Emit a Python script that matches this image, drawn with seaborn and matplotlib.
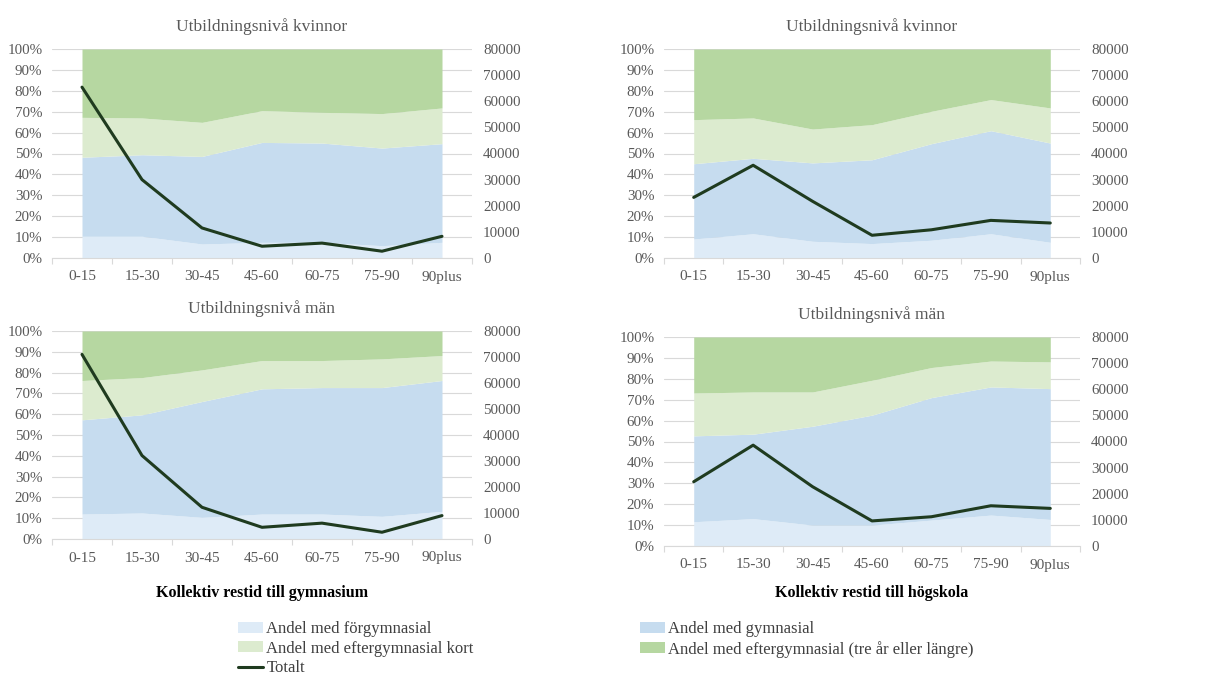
import numpy as np
import pandas as pd
import seaborn as sns
import matplotlib.pyplot as plt
from matplotlib.patches import Patch
from matplotlib.lines import Line2D
from matplotlib.ticker import FixedLocator, FuncFormatter

# restid (minuter)
restid = ["0-15", "15-30", "30-45", "45-60", "60-75", "75-90", "90plus"]

# kvinnor, gymnasium (andel i %)
kv_gym_forgymn = [10.4, 10.4, 6.7, 7.5, 7.5, 5.9, 7.5]
kv_gym_gymn = [37.8, 39.0, 41.9, 47.8, 47.5, 46.7, 47.2]
kv_gym_kort = [19.1, 17.6, 16.3, 15.2, 14.7, 16.5, 17.1]
kv_gym_lang = [32.7, 33.0, 35.1, 29.5, 30.3, 30.9, 28.2]
kv_gym_totalt = [65400, 30000, 11500, 4500, 5700, 2600, 8300]

# kvinnor, högskola
kv_hs_forgymn = [9.1, 11.6, 8.0, 6.9, 8.5, 11.6, 7.5]
kv_hs_gymn = [36.0, 36.1, 37.5, 40.1, 46.2, 49.3, 47.5]
kv_hs_kort = [21.1, 19.3, 16.2, 16.8, 15.5, 14.9, 16.8]
kv_hs_lang = [33.8, 33.0, 38.3, 36.2, 29.8, 24.2, 28.2]
kv_hs_totalt = [23200, 35500, 21700, 8700, 10800, 14400, 13400]

# män, gymnasium
man_gym_forgymn = [12.0, 12.5, 10.4, 12.0, 12.0, 10.9, 13.3]
man_gym_gymn = [45.3, 47.2, 55.7, 60.2, 60.8, 61.9, 62.9]
man_gym_kort = [18.9, 17.9, 15.2, 13.6, 13.0, 13.8, 12.0]
man_gym_lang = [23.8, 22.4, 18.7, 14.2, 14.2, 13.4, 11.8]
man_gym_totalt = [71000, 32100, 12200, 4500, 6100, 2600, 9000]

# män, högskola
man_hs_forgymn = [11.6, 13.1, 10.0, 10.0, 12.4, 14.8, 12.7]
man_hs_gymn = [41.1, 40.4, 47.3, 52.6, 58.6, 61.3, 62.6]
man_hs_kort = [20.5, 20.2, 16.4, 16.7, 14.4, 12.4, 12.8]
man_hs_lang = [26.8, 26.3, 26.3, 20.7, 14.6, 11.5, 11.9]
man_hs_totalt = [24600, 38600, 22700, 9600, 11200, 15400, 14400]

serie_namn = ["Andel med förgymnasial", "Andel med gymnasial",
              "Andel med eftergymnasial kort",
              "Andel med eftergymnasial (tre år eller längre)"]
farger = ["#deebf7", "#c6dcef", "#dcebcf", "#b6d7a1"]
linje_farg = "#1f3b1f"
gra = "#595959"

sns.set_theme(style="white")
plt.rcParams["font.family"] = ["Liberation Serif", "DejaVu Serif"]

fig = plt.figure(figsize=(12.12, 6.74), dpi=100)
W, H = 1212, 674


def px_axes(left, top, right, bottom):
    return fig.add_axes([left / W, 1 - bottom / H, (right - left) / W, (bottom - top) / H])


paneler = [
    (px_axes(52, 49, 472, 258), "Utbildningsnivå kvinnor",
     [kv_gym_forgymn, kv_gym_gymn, kv_gym_kort, kv_gym_lang], kv_gym_totalt, None),
    (px_axes(664, 49, 1080, 258), "Utbildningsnivå kvinnor",
     [kv_hs_forgymn, kv_hs_gymn, kv_hs_kort, kv_hs_lang], kv_hs_totalt, None),
    (px_axes(52, 331, 472, 539), "Utbildningsnivå män",
     [man_gym_forgymn, man_gym_gymn, man_gym_kort, man_gym_lang], man_gym_totalt,
     "Kollektiv restid till gymnasium"),
    (px_axes(664, 337, 1080, 546), "Utbildningsnivå män",
     [man_hs_forgymn, man_hs_gymn, man_hs_kort, man_hs_lang], man_hs_totalt,
     "Kollektiv restid till högskola"),
]

x = np.arange(len(restid))

for ax, titel, andelar, totalt, xlabel in paneler:
    ax.set_axisbelow(True)
    ax.stackplot(x, *andelar, colors=farger, linewidth=0)
    ax.set_xlim(-0.5, len(restid) - 0.5)
    ax.set_ylim(0, 100)
    ax.yaxis.set_major_locator(FixedLocator(np.arange(0, 101, 10)))
    ax.yaxis.set_major_formatter(FuncFormatter(lambda v, p: f"{v:.0f}%"))
    ax.grid(axis="y", color="#d9d9d9", linewidth=0.8)
    ax.grid(axis="x", visible=False)
    ax.set_xticks(x)
    ax.set_xticklabels(restid)
    ax.set_xticks(np.arange(-0.5, len(restid)), minor=True)
    ax.tick_params(axis="x", which="major", length=0, pad=9, labelsize=11, labelcolor=gra)
    ax.tick_params(axis="x", which="minor", length=4, color="#d9d9d9", width=0.8,
                   direction="out", bottom=True)
    ax.tick_params(axis="y", length=0, pad=7, labelsize=10.8, labelcolor=gra)
    for s in ["left", "right", "top"]:
        ax.spines[s].set_visible(False)
    ax.spines["bottom"].set_color("#d9d9d9")
    ax.spines["bottom"].set_linewidth(0.8)
    ax.set_title(titel, fontsize=12.5, color=gra, pad=13)

    ax2 = ax.twinx()
    df = pd.DataFrame({"x": x, "Totalt": totalt})
    sns.lineplot(data=df, x="x", y="Totalt", ax=ax2, color=linje_farg, linewidth=2.2)
    ax2.set_ylim(0, 80000)
    ax2.yaxis.set_major_locator(FixedLocator(np.arange(0, 80001, 10000)))
    ax2.yaxis.set_major_formatter(FuncFormatter(lambda v, p: f"{v:.0f}"))
    ax2.tick_params(axis="y", length=0, pad=8, labelsize=10.8, labelcolor=gra)
    ax2.set_ylabel("")
    ax2.set_xlabel("")
    ax2.grid(False)
    for s in ax2.spines.values():
        s.set_visible(False)

    ax.set_xlabel("")
    if xlabel:
        ax.set_xlabel(xlabel, fontsize=11.5, fontweight="bold", color="black")
        pos = ax.get_position()
        yc = (1 - 593 / H - pos.y0) / pos.height
        ax.xaxis.set_label_coords(0.5, yc)
        ax.xaxis.label.set_va("center")

handles1 = [Patch(facecolor=farger[0], edgecolor="none"),
            Patch(facecolor=farger[2], edgecolor="none"),
            Line2D([], [], color=linje_farg, linewidth=2.2)]
labels1 = [serie_namn[0], serie_namn[2], "Totalt"]
handles2 = [Patch(facecolor=farger[1], edgecolor="none"),
            Patch(facecolor=farger[3], edgecolor="none")]
labels2 = [serie_namn[1], serie_namn[3]]

leg_kw = dict(loc="upper left", frameon=False, fontsize=12, handlelength=1.5,
              handleheight=0.65, handletextpad=0.2, labelspacing=0.22, borderpad=0,
              borderaxespad=0, labelcolor="#404040")
fig.legend(handles1, labels1, bbox_to_anchor=(238 / W, 1 - 621 / H), **leg_kw)
fig.legend(handles2, labels2, bbox_to_anchor=(640 / W, 1 - 621 / H), **leg_kw)

fig.savefig("out.png", dpi=100)
